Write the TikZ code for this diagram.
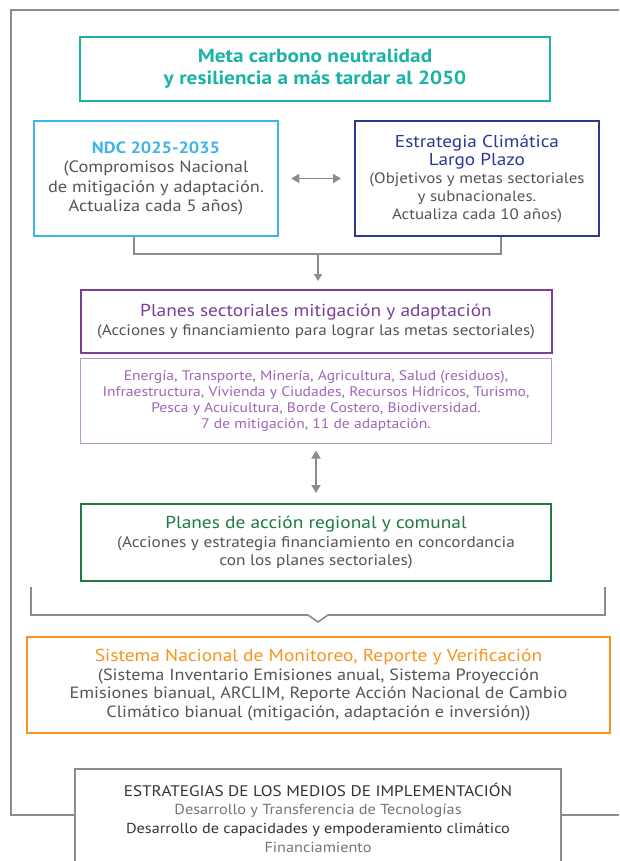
\documentclass[tikz,border=0pt]{standalone}
\usepackage{fontspec}
\setmainfont{PT Sans}[FakeStretch=1.12]
\usepackage{xcolor}
\usetikzlibrary{arrows.meta, positioning}

\definecolor{turquesa}{HTML}{1BB3A6}
\definecolor{celeste}{HTML}{3DB5E6}
\definecolor{azul}{HTML}{2B3990}
\definecolor{morado}{HTML}{7B3F98}
\definecolor{lila}{HTML}{A064B8}
\definecolor{verde}{HTML}{1F7A45}
\definecolor{naranja}{HTML}{F7941D}
\definecolor{gris}{HTML}{8C8C8C}
\definecolor{texto}{HTML}{555555}
\definecolor{oscuro}{HTML}{333333}

\tikzset{
  caja/.style={draw, line width=2pt, fill=white, align=center, inner sep=0pt,
    text=texto, font=\fontsize{15.2}{18.5}\selectfont},
  flecha/.style={draw=gris, line width=1.6pt},
  punta/.style={-{Triangle[width=8pt,length=7pt]}},
  puntas/.style={{Triangle[width=9pt,length=8pt]}-{Triangle[width=9pt,length=8pt]}},
}

\begin{document}
\begin{tikzpicture}[x=1pt,y=-1pt]
  \useasboundingbox (0,0) rectangle (619,861);

  % Marco
  \draw[gris, line width=1.5pt] (619,10) -- (11,10) -- (11,815) -- (619,815);

  % Meta
  \node[caja, draw=turquesa, line width=2.5pt, text=turquesa, minimum width=470pt, minimum height=64pt,
    font=\fontsize{19}{22}\selectfont\bfseries] (meta) at (315,69)
    {Meta carbono neutralidad\\ y resiliencia a más tardar al 2050};

  % NDC y estrategia
  \node[caja, draw=celeste, line width=2.5pt, minimum width=244pt, minimum height=115pt,
    font=\fontsize{16.4}{19.3}\selectfont] (ndc) at (156,178.5)
    {{\bfseries\color{celeste}\fontsize{16.3}{20}\selectfont NDC 2025-2035}\\ (Compromisos Nacional\\
     de mitigación y adaptación.\\ Actualiza cada 5 años)};
  \node[caja, draw=azul, minimum width=244pt, minimum height=115pt,
    font=\fontsize{15.1}{18}\selectfont] (ecl) at (477,178.5)
    {{\color{azul}\fontsize{17.2}{20}\selectfont Estrategia Climática}\\
     {\color{azul}\fontsize{17.2}{20}\selectfont Largo Plazo}\\
     (Objetivos y metas sectoriales\\ y subnacionales.\\ Actualiza cada 10 años)};
  \draw[flecha, puntas, shorten <=12pt, shorten >=13pt] (ndc) -- (ecl);

  \coordinate (union) at (318,254);
  \draw[flecha] ([xshift=-22pt]ndc.south) |- (union) -| ([xshift=24pt]ecl.south);

  % Planes sectoriales
  \node[caja, draw=morado, minimum width=471pt, minimum height=63pt] (pls) at (316,321.5)
    {{\color{morado}\fontsize{17.3}{20}\selectfont Planes sectoriales mitigación y adaptación}\\
     (Acciones y financiamiento para lograr las metas sectoriales)};
  \draw[flecha, punta, shorten >=8pt] (union) -- (union |- pls.north);

  \node[caja, draw=lila!70, line width=1pt, text=lila, minimum width=471pt, minimum height=85pt,
    font=\fontsize{13.9}{16}\selectfont] (sec) at (316,400.5)
    {Energía, Transporte, Minería, Agricultura, Salud (residuos),\\
     Infraestructura, Vivienda y Ciudades, Recursos Hídricos, Turismo,\\
     Pesca y Acuicultura, Borde Costero, Biodiversidad.\\
     7 de mitigación, 11 de adaptación.};

  % Planes regionales
  \node[caja, draw=verde, minimum width=470pt, minimum height=77pt,
    font=\fontsize{15.4}{18.5}\selectfont] (pla) at (316,542.5)
    {{\color{verde}\fontsize{17.3}{20}\selectfont Planes de acción regional y comunal}\\
     (Acciones y estrategia financiamiento en concordancia\\ con los planes sectoriales)};
  \draw[flecha, puntas, shorten <=7pt, shorten >=10pt] (sec) -- (pla);

  % Llave
  \coordinate (llaveIzq) at (31,587);
  \coordinate (llaveDer) at (605,587);
  \draw[flecha] (llaveIzq) |- (308,615) -- (318,622) -- (328,615) -| (llaveDer);

  % MRV
  \node[caja, draw=naranja, minimum width=583pt, minimum height=96pt,
    font=\fontsize{16.3}{18.7}\selectfont] (mrv) at (318.5,685)
    {{\color{naranja}\fontsize{17.3}{20}\selectfont Sistema Nacional de Monitoreo, Reporte y Verificación}\\
     (Sistema Inventario Emisiones anual, Sistema Proyección\\
     Emisiones bianual, ARCLIM, Reporte Acción Nacional de Cambio\\
     Climático bianual (mitigación, adaptación e inversión))};

  % Medios de implementacion
  \node[caja, draw=gris, line width=1.5pt, anchor=north, minimum width=486pt, minimum height=98pt,
    text=gris!120, font=\fontsize{14.5}{18.7}\selectfont] (medios) at (318,768)
    {{\color{oscuro}\fontsize{15.3}{19}\selectfont ESTRATEGIAS DE LOS MEDIOS DE IMPLEMENTACIÓN}\\
     Desarrollo y Transferencia de Tecnologías\\
     {\color{oscuro}Desarrollo de capacidades y empoderamiento climático}\\
     Financiamiento};
\end{tikzpicture}
\end{document}
